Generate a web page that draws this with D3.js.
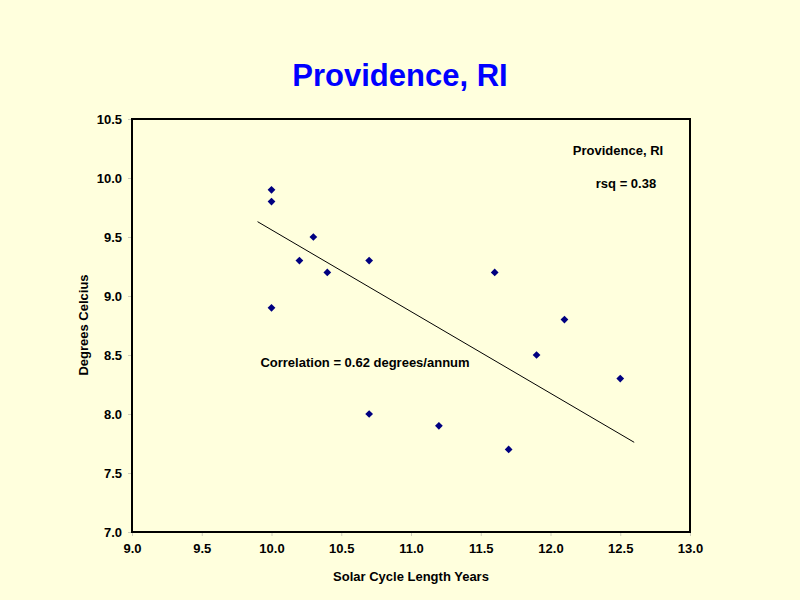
<!DOCTYPE html>
<html><head><meta charset="utf-8">
<script src="https://cdn.jsdelivr.net/npm/d3@7"></script>
<style>body{margin:0;background:#FFFFDD;} text{font-family:Arial,"Liberation Sans",sans-serif;}</style>
</head><body>
<svg id="c" width="800" height="600"></svg>
<script>
const solarCycle = [10.0, 10.0, 10.0, 10.2, 10.3, 10.4, 10.7, 10.7, 11.2, 11.6, 11.7, 11.9, 12.1, 12.5];
const degrees    = [9.9,  9.8,  8.9,  9.3,  9.5,  9.2,  9.3,  8.0,  7.9,  9.2,  7.7,  8.5,  8.8,  8.3];
const trendX = [9.9, 12.6];
const trendY = [9.63, 7.76];
const xTicks = [9.0, 9.5, 10.0, 10.5, 11.0, 11.5, 12.0, 12.5, 13.0];
const yTicks = [7.0, 7.5, 8.0, 8.5, 9.0, 9.5, 10.0, 10.5];

const svg = d3.select("#c");
svg.append("rect").attr("width",800).attr("height",600).attr("fill","#FFFFDD");
const L=132, R=690, T=119, B=532;
const x = d3.scaleLinear().domain([9,13]).range([L,R]);
const y = d3.scaleLinear().domain([7,10.5]).range([B,T]);

svg.append("text").attr("x",400).attr("y",86).attr("text-anchor","middle")
  .attr("font-size",31).attr("font-weight","bold").attr("fill","#0000FF").text("Providence, RI");

const xa = svg.append("g").attr("transform",`translate(0,${B})`)
  .call(d3.axisBottom(x).tickValues(xTicks).tickFormat(d3.format(".1f")).tickSize(4).tickPadding(8));
const ya = svg.append("g").attr("transform",`translate(${L},0)`)
  .call(d3.axisLeft(y).tickValues(yTicks).tickFormat(d3.format(".1f")).tickSize(4).tickPadding(6));
[xa,ya].forEach(a=>{
  a.select(".domain").remove();
  a.selectAll(".tick line").attr("stroke","#ccccbb");
  a.selectAll("text").attr("font-size",13).attr("font-weight","bold").attr("fill","#000");
});

svg.append("rect").attr("x",L).attr("y",T).attr("width",R-L).attr("height",B-T)
  .attr("fill","none").attr("stroke","#000").attr("stroke-width",2);

svg.append("line").attr("x1",x(trendX[0])).attr("y1",y(trendY[0]))
  .attr("x2",x(trendX[1])).attr("y2",y(trendY[1])).attr("stroke","#000").attr("stroke-width",1);

svg.append("g").selectAll("path").data(solarCycle.map((v,i)=>[v,degrees[i]])).join("path")
  .attr("d",d3.symbol(d3.symbolSquare,30)())
  .attr("transform",d=>`translate(${x(d[0])},${y(d[1])}) rotate(45)`)
  .attr("fill","#000080");

svg.append("text").attr("x",618).attr("y",155).attr("text-anchor","middle")
  .attr("font-size",13).attr("font-weight","bold").text("Providence, RI");
svg.append("text").attr("x",626).attr("y",188).attr("text-anchor","middle")
  .attr("font-size",13).attr("font-weight","bold").text("rsq = 0.38");
svg.append("text").attr("x",365).attr("y",367).attr("text-anchor","middle")
  .attr("font-size",13).attr("font-weight","bold").text("Correlation = 0.62 degrees/annum");

svg.append("text").attr("x",411).attr("y",581).attr("text-anchor","middle")
  .attr("font-size",13).attr("font-weight","bold").text("Solar Cycle Length Years");
svg.append("text").attr("transform","translate(88,325) rotate(-90)").attr("text-anchor","middle")
  .attr("font-size",13).attr("font-weight","bold").text("Degrees Celcius");
</script>
</body></html>
